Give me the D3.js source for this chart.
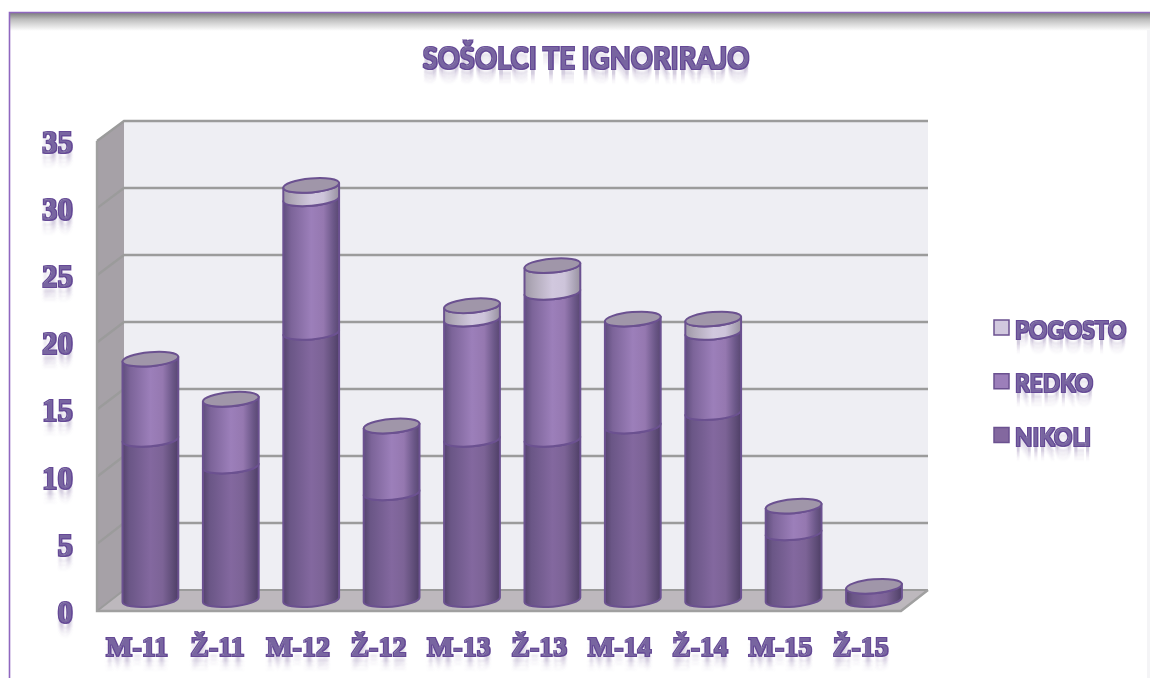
<!DOCTYPE html>
<html><head><meta charset="utf-8">
<script src="https://cdn.jsdelivr.net/npm/d3@7"></script>
<style>html,body{margin:0;padding:0;background:#fff;overflow:hidden}svg{display:block}</style>
</head><body><svg id="c" width="1150" height="678"></svg>
<script>
const categories=["M-11","Ž-11","M-12","Ž-12","M-13","Ž-13","M-14","Ž-14","M-15","Ž-15"];
const nikoli=[12,10,20,8,12,12,13,14,5,1];
const redko=[6,5,10,5,9,11,8,6,2,0];
const pogosto=[0,0,1,0,1,2,0,1,0,0];
const seriesNames=["NIKOLI","REDKO","POGOSTO"];
const titleText="SOŠOLCI TE IGNORIRAJO";
const yTicks=[0,5,10,15,20,25,30,35];

const svg=d3.select("#c");
const defs=svg.append("defs");
const purple="#654a96", edge="#6b5190";
const W=1150;

function grad(id,stops,horizontal=true){
  const g=defs.append("linearGradient").attr("id",id).attr("x1",0).attr("y1",0)
    .attr("x2",horizontal?1:0).attr("y2",horizontal?0:1);
  stops.forEach(s=>g.append("stop").attr("offset",s[0]).attr("stop-color",s[1]));
}
const seriesGrad=[
 [[0,"#54436c"],[.12,"#6a5686"],[.5,"#83689f"],[.72,"#7c6396"],[.9,"#5f4d78"],[1,"#4e3e66"]],
 [[0,"#5f4e7c"],[.14,"#7c6499"],[.5,"#9c7fba"],[.72,"#9578b0"],[.9,"#6b5788"],[1,"#594872"]],
 [[0,"#9d97a6"],[.15,"#b0a9b8"],[.5,"#d1c8de"],[.72,"#cdc4da"],[.9,"#aba4b6"],[1,"#99929f"]]
];
seriesGrad.forEach((s,i)=>grad("g"+i,s));
grad("topShadow",[[0,"#7f7f7f"],[.35,"#bdbdbd"],[1,"#ffffff"]],false);

function textFilter(id,reach,blur){
  const f=defs.append("filter").attr("id",id).attr("x","-10%").attr("y","-30%").attr("width","120%").attr("height","200%");
  f.append("feMorphology").attr("in","SourceAlpha").attr("operator","dilate").attr("radius",.8).attr("result","fat");
  f.append("feFlood").attr("flood-color",purple).attr("result","col");
  f.append("feComposite").attr("in","col").attr("in2","fat").attr("operator","in").attr("result","body");
  const layers=[[reach*.4,.22],[reach*.7,.14],[reach,.07]];
  layers.forEach((l,i)=>{
    f.append("feOffset").attr("in","SourceAlpha").attr("dy",l[0]).attr("result","o"+i);
    f.append("feGaussianBlur").attr("in","o"+i).attr("stdDeviation",blur).attr("result","b"+i);
    f.append("feFlood").attr("flood-color","#8a78a8").attr("flood-opacity",l[1]).attr("result","fc"+i);
    f.append("feComposite").attr("in","fc"+i).attr("in2","b"+i).attr("operator","in").attr("result","r"+i);
  });
  const sp=f.append("feSpecularLighting").attr("in","fat").attr("surfaceScale",2).attr("specularConstant",.15).attr("specularExponent",12).attr("lighting-color","#ffffff").attr("result","spec");
  sp.append("feDistantLight").attr("azimuth",235).attr("elevation",50);
  f.append("feComposite").attr("in","spec").attr("in2","fat").attr("operator","in").attr("result","specIn");
  const m=f.append("feMerge");
  ["r2","r1","r0","body","specIn"].forEach(n=>m.append("feMergeNode").attr("in",n));
}
textFilter("tf",14,.8);

// frame
svg.append("rect").attr("x",10).attr("y",13).attr("width",W-10).attr("height",18).attr("fill","url(#topShadow)");
svg.append("path").attr("d","M9.5,678V12.5H1150").attr("fill","none").attr("stroke","#8f67bf").attr("stroke-width",1.6);
svg.append("rect").attr("x",1147).attr("y",30).attr("width",3).attr("height",648).attr("fill","#f4f4f6");

// scales
const x=d3.scaleBand().domain(categories).range([97,901]);
const yFront=d3.scaleLinear().domain([0,35]).range([611,141]);
const yBack=d3.scaleLinear().domain([0,35]).range([590,121]);
const yMid=d3.scaleLinear().domain([0,35]).range([599.7,132]);
const depth=27;

// walls
const g3=svg.append("g");
g3.append("rect").attr("x",x.range()[0]+depth).attr("y",yBack(35)).attr("width",x.range()[1]-x.range()[0]).attr("height",yBack(0)-yBack(35)).attr("fill","#eeeef3");
const wall=(pts,fill)=>g3.append("path").attr("d",d3.line()(pts)+"Z").attr("fill",fill);
const x0=x.range()[0],x1=x.range()[1];
wall([[x0,yFront(35)],[x0+depth,yBack(35)],[x0+depth,yBack(0)],[x0,yFront(0)]],"#a6a1a7");
wall([[x0,yFront(0)],[x0+depth,yBack(0)],[x1+depth,yBack(0)],[x1,yFront(0)]],"#bdb8bd");
yTicks.forEach(t=>{
  g3.append("path").attr("d",d3.line()([[x0,yFront(t)],[x0+depth,yBack(t)],[x1+depth,yBack(t)]]))
    .attr("fill","none").attr("stroke","#9b9b9b").attr("stroke-width",t===0?2:2.4);
});
g3.append("path").attr("d",d3.line()([[x0,yFront(35)],[x0,yFront(0)],[x1,yFront(0)],[x1+depth,yBack(0)]]))
  .attr("fill","none").attr("stroke","#a0a0a0").attr("stroke-width",2.4);

// cylinders
const rx=28, ry=7, tilt=-5, sin5=Math.sin(5*Math.PI/180), cos5=Math.cos(5*Math.PI/180);
const bars=svg.append("g");
const stacks=[nikoli,redko,pogosto];
categories.forEach((c,i)=>{
  const cx=x(c)+x.bandwidth()/2+depth/2-.3;
  let acc=0;
  const lx=cx-rx*cos5, rxp=cx+rx*cos5, dy=rx*sin5;
  stacks.forEach((s,k)=>{
    const v=s[i]; if(!v) return;
    const a=yMid(acc), b=yMid(acc+v);
    const d=`M${lx},${b+dy}L${lx},${a+dy}A${rx},${ry} ${tilt} 0 0 ${rxp},${a-dy}L${rxp},${b-dy}A${rx},${ry} ${tilt} 0 1 ${lx},${b+dy}Z`;
    bars.append("path").datum(v).attr("d",d).attr("fill",`url(#g${k})`).attr("stroke",edge).attr("stroke-width",2).attr("stroke-linejoin","round");
    acc+=v;
  });
  bars.append("ellipse").attr("cx",cx).attr("cy",yMid(acc)).attr("rx",rx).attr("ry",ry)
    .attr("transform",`rotate(${tilt} ${cx} ${yMid(acc)})`).attr("fill","#a096a9").attr("stroke",edge).attr("stroke-width",2);
});

// axes
const serif="'Liberation Serif',serif", sans="Lato,'Open Sans',sans-serif";
const axL=svg.append("g").attr("transform","translate(73,0)")
  .call(d3.axisLeft(yFront).tickValues(yTicks).tickSize(0).tickPadding(0));
axL.select(".domain").remove();
axL.selectAll("text").attr("font-family",serif).attr("font-weight",700).attr("font-size",31).attr("fill",purple).attr("filter","url(#tf)").attr("dy","0.32em");
axL.selectAll(".tick").attr("transform",d=>`translate(0,${yFront(d)+2})`);
const axB=svg.append("g").attr("transform","translate(0,656)")
  .call(d3.axisBottom(x).tickSize(0).tickPadding(0));
axB.select(".domain").remove();
axB.selectAll("text").attr("font-family",serif).attr("font-weight",700).attr("font-size",28).attr("fill",purple).attr("filter","url(#tf)").attr("y",0).attr("dy",0);

// title
svg.append("text").attr("transform","translate(586,69) scale(0.885,1)").attr("text-anchor","middle").text(titleText)
  .attr("font-family",sans).attr("font-weight",700).attr("font-size",31).attr("fill",purple).attr("filter","url(#tf)");

// legend
const legY=d3.scalePoint().domain(["POGOSTO","REDKO","NIKOLI"]).range([327.5,435]);
seriesNames.forEach((n,k)=>{
  const y=legY(n);
  svg.append("rect").attr("x",994).attr("y",y-7.5).attr("width",15).attr("height",15)
    .attr("fill",seriesGrad[k][2][1]).attr("stroke",edge).attr("stroke-width",1.5);
  svg.append("text").attr("transform",`translate(1015,${y+11}) scale(0.91,1)`).text(n).attr("font-family",sans).attr("font-weight",700)
    .attr("font-size",25).attr("fill",purple).attr("filter","url(#tf)");
});
</script></body></html>
